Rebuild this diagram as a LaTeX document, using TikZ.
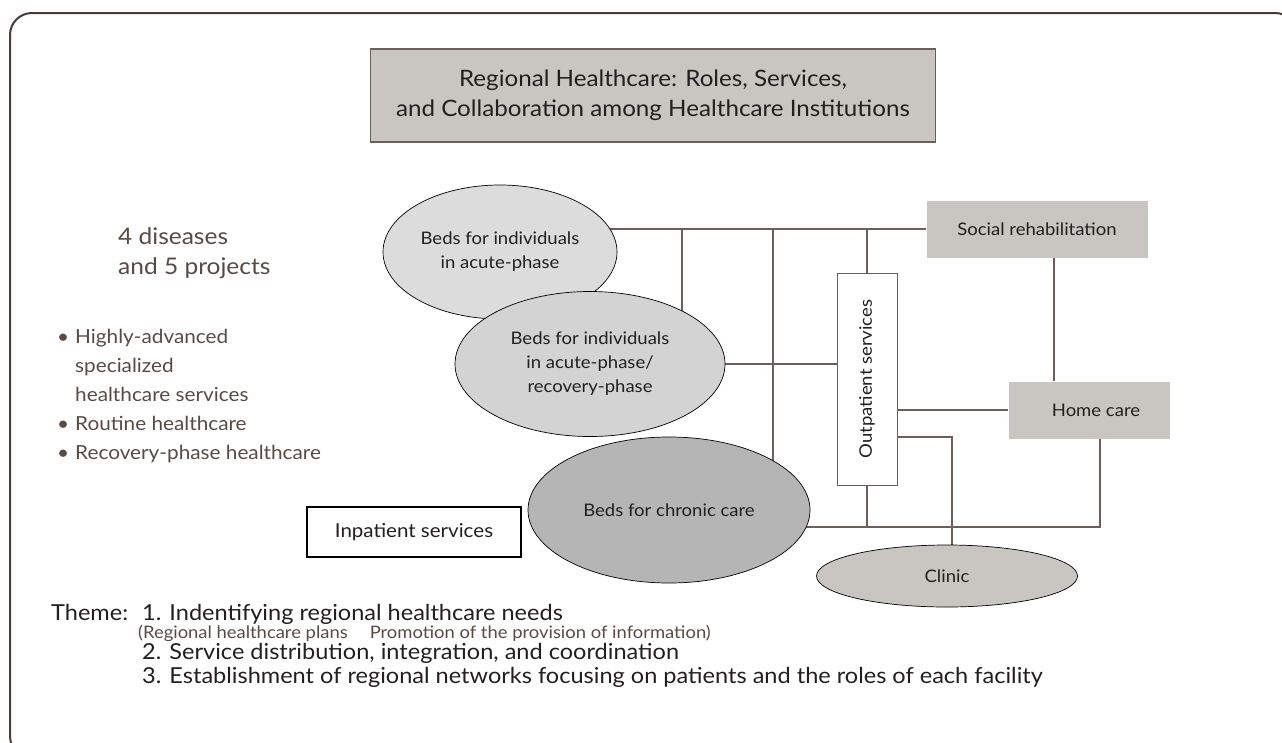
\documentclass[tikz,border=0pt]{standalone}
\usepackage{fontspec}
\setmainfont{Lato}[FakeStretch=1.07]
\usetikzlibrary{shapes.geometric,backgrounds}
\definecolor{ink}{HTML}{231F20}
\definecolor{brownish}{HTML}{574B46}
\definecolor{rule}{HTML}{6B5E5B}
\definecolor{panel}{HTML}{C9C5C1}
\definecolor{bedA}{HTML}{DCDCDC}
\definecolor{bedB}{HTML}{D3D3D3}
\definecolor{bedC}{HTML}{B5B5B5}
\begin{document}
\begin{tikzpicture}[x=1pt, y=-1pt,
  every node/.style={font=\fontsize{17.3}{24}\selectfont, text=ink, align=center},
  bed/.style={ellipse, draw=black, line width=0.7pt, inner sep=0pt},
  greybox/.style={fill=panel, inner sep=0pt},
  line/.style={anchor=base west, inner sep=0pt, font=\fontsize{22}{26}\selectfont},
  link/.style={draw=rule, line width=1.2pt}]
  \useasboundingbox (0,0) rectangle (1282,742);
  \draw[draw=brownish!80!black, line width=2pt, rounded corners=22pt] (10,13) rectangle (1297,758);

  % heading
  \node[greybox, draw=rule, line width=1.2pt, minimum width=565, minimum height=93,
        font=\fontsize{22.6}{30}\selectfont] (title) at (653,95.5)
    {Regional Healthcare: Roles, Services,\\and Collaboration among Healthcare Institutions};

  % left column
  \node[anchor=west, inner sep=0pt, align=left, text=brownish, font=\fontsize{22.9}{30}\selectfont] (dis) at (118,253)
    {4 diseases\\and 5 projects};
  \node[anchor=west, inner sep=0pt, align=left, text=brownish, font=\fontsize{19.4}{29}\selectfont] (aims) at (57,396)
    {\begin{tabular}{@{}c@{\hspace{6pt}}l@{}}
      \textbullet & Highly-advanced\\
                  & specialized\\
                  & healthcare services\\
      \textbullet & Routine healthcare\\
      \textbullet & Recovery-phase healthcare
    \end{tabular}};

  % beds
  \node[bed, fill=bedA, minimum width=234, minimum height=134] (A) at (500,252)
    {Beds for individuals\\in acute-phase};
  \node[bed, fill=bedB, minimum width=270, minimum height=145] (B) at (590,364)
    {Beds for individuals\\in acute-phase/\\recovery-phase};
  \node[bed, fill=bedC, minimum width=282, minimum height=146] (C) at (669,510)
    {Beds for chronic care};
  \node[draw=black, line width=1.8pt, fill=white, minimum width=214, minimum height=50,
        font=\fontsize{19.2}{22}\selectfont] (inpat) at (414,532) {Inpatient services};

  % outpatient side
  \node[draw=rule, line width=1pt, fill=white, minimum width=60, minimum height=212] (out) at (867,379) {};
  \node[rotate=90] at (out.center) {Outpatient services};
  \node[greybox, minimum width=221, minimum height=57] (social) at (1037,229) {Social rehabilitation};
  \node[greybox, minimum width=161, minimum height=57] (home) at (1089,410) {\hspace{14pt}Home care};
  \node[bed, fill=panel, minimum width=261, minimum height=62] (clinic) at (947,576) {Clinic};

  \begin{scope}[on background layer]
    \coordinate (dropB) at (682,229);
    \coordinate (dropC) at (773,229);
    \coordinate (tohome) at (1054,229);
    \coordinate (toclinic) at (952,437);
    \coordinate (bend) at (1100,527);
    \draw[link] (social.west) -- (A.center |- social.west);
    \draw[link] (dropB) -- (dropB |- B.center);
    \draw[link] (dropC) -- (dropC |- C.center);
    \draw[link] (out.north |- social.west) -- (out.north);
    \draw[link] (B.center) -- (out.west |- B.center);
    \draw[link] (tohome |- social.south) -- (tohome |- home.north);
    \draw[link] (out.east |- home.west) -- (home.west);
    \draw[link] (out.east |- toclinic) -- (toclinic) -- (toclinic |- clinic.north);
    \draw[link] (C.center |- bend) -- (bend) -- (bend |- home.south);
    \draw[link] (out.south) -- (out.south |- bend);
  \end{scope}

  % themes
  \node[line] (theme) at (51,620) {Theme:};
  \node[line] (t1) at (142,620) {1. Indentifying regional healthcare needs};
  \node[line, text=brownish, font=\fontsize{17.2}{20}\selectfont] (t1sub) at (138,638)
    {(Regional healthcare plans\hspace{22pt}Promotion of the provision of information)};
  \node[line] (t2) at (142,659) {2. Service distribution, integration, and coordination};
  \node[line] (t3) at (142,683)
    {3. Establishment of regional networks focusing on patients and the roles of each facility};
\end{tikzpicture}
\end{document}
